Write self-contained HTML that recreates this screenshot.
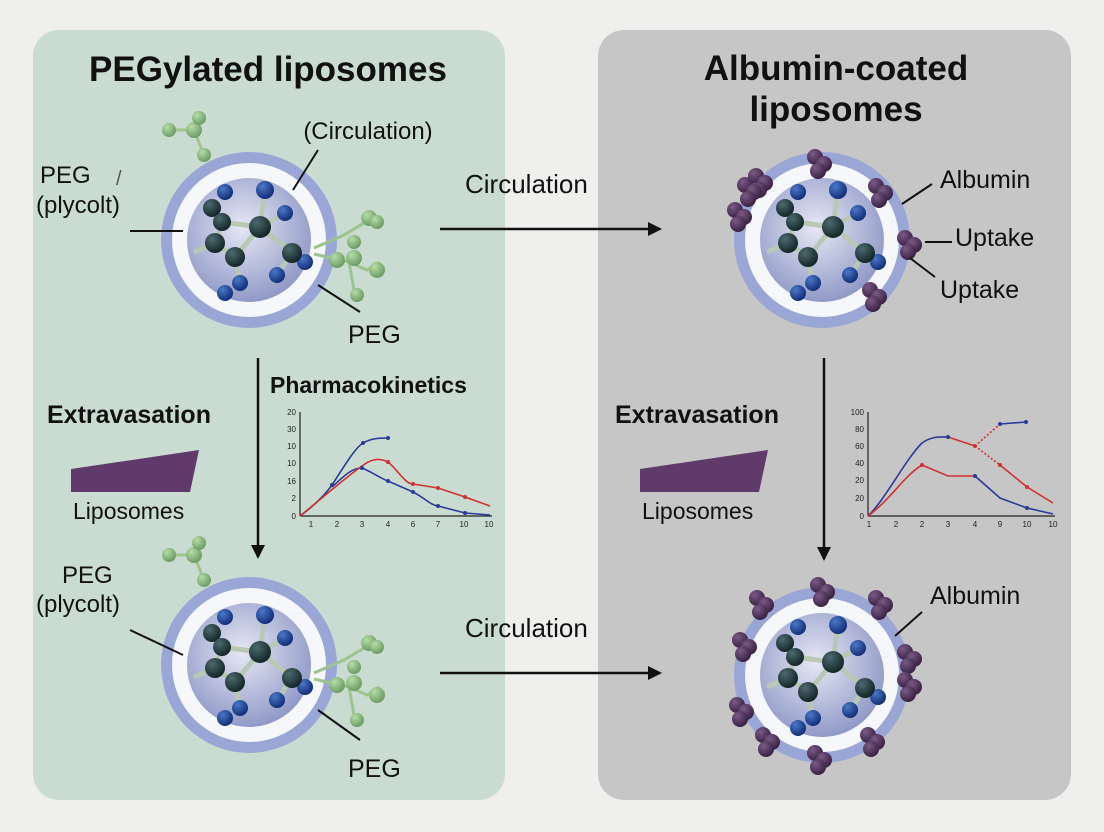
<!DOCTYPE html>
<html><head><meta charset="utf-8"><style>
html,body{margin:0;padding:0;background:#efefed;}
svg{display:block;font-family:"Liberation Sans",sans-serif;}
</style></head><body>
<svg width="1104" height="832" viewBox="0 0 1104 832" xmlns="http://www.w3.org/2000/svg">
<defs>
<radialGradient id="core" cx="45%" cy="40%" r="65%"><stop offset="0" stop-color="#e6e8f4"/><stop offset="1" stop-color="#8a93c4"/></radialGradient>
<radialGradient id="dk" cx="35%" cy="30%" r="70%"><stop offset="0" stop-color="#4d6a70"/><stop offset="1" stop-color="#142628"/></radialGradient>
<radialGradient id="bl" cx="35%" cy="30%" r="70%"><stop offset="0" stop-color="#4a78c8"/><stop offset="1" stop-color="#132f78"/></radialGradient>
<radialGradient id="gr" cx="35%" cy="30%" r="70%"><stop offset="0" stop-color="#b6dca6"/><stop offset="1" stop-color="#6c9c64"/></radialGradient>
<radialGradient id="pu" cx="35%" cy="30%" r="70%"><stop offset="0" stop-color="#7a5a86"/><stop offset="1" stop-color="#3a2244"/></radialGradient>
<marker id="ah" markerWidth="14" markerHeight="14" refX="12" refY="7" orient="auto" markerUnits="userSpaceOnUse"><path d="M0,0 L14,7 L0,14 z" fill="#111"/></marker>
<g id="lipo">
<circle r="88" fill="#9aa6d6"/>
<circle r="77" fill="#f6f7fb"/>
<circle r="62" fill="url(#core)"/>
<g stroke="#b8c8b4" stroke-width="5" fill="none">
<path d="M-37,-32 L-27,-18 L-34,3 L-14,17 L11,-13 L-27,-18 M11,-13 L43,13 M11,-13 L16,-50 M11,-13 L36,-27 M-14,17 L-9,43 M43,13 L56,22 M-34,3 L-55,12 M43,13 L28,35"/>
</g>
<circle cx="-24" cy="-48" r="8" fill="url(#bl)"/><circle cx="16" cy="-50" r="9" fill="url(#bl)"/><circle cx="36" cy="-27" r="8" fill="url(#bl)"/>
<circle cx="28" cy="35" r="8" fill="url(#bl)"/><circle cx="-9" cy="43" r="8" fill="url(#bl)"/><circle cx="-24" cy="53" r="8" fill="url(#bl)"/><circle cx="56" cy="22" r="8" fill="url(#bl)"/>
<circle cx="-37" cy="-32" r="9" fill="url(#dk)"/><circle cx="-27" cy="-18" r="9" fill="url(#dk)"/><circle cx="-34" cy="3" r="10" fill="url(#dk)"/>
<circle cx="-14" cy="17" r="10" fill="url(#dk)"/><circle cx="11" cy="-13" r="11" fill="url(#dk)"/><circle cx="43" cy="13" r="10" fill="url(#dk)"/>
</g>
<g id="peg">
<g stroke="#9cc48c" stroke-width="3" fill="none"><path d="M-45,-85 L-55,-110 L-50,-122 M-55,-110 L-78,-110 M65,8 L95,-5 L120,-20 M65,14 L100,22 L118,30 L130,22 M100,22 L105,50"/></g>
<circle cx="-45" cy="-85" r="7" fill="url(#gr)"/><circle cx="-55" cy="-110" r="8" fill="url(#gr)"/><circle cx="-50" cy="-122" r="7" fill="url(#gr)"/><circle cx="-80" cy="-110" r="7" fill="url(#gr)"/>
<circle cx="120" cy="-22" r="8" fill="url(#gr)"/><circle cx="128" cy="-18" r="7" fill="url(#gr)"/><circle cx="88" cy="20" r="8" fill="url(#gr)"/><circle cx="105" cy="18" r="8" fill="url(#gr)"/><circle cx="105" cy="2" r="7" fill="url(#gr)"/><circle cx="128" cy="30" r="8" fill="url(#gr)"/><circle cx="108" cy="55" r="7" fill="url(#gr)"/>
</g>
<g id="alb"><circle cx="0" cy="0" r="8" fill="url(#pu)"/><circle cx="9" cy="7" r="8" fill="url(#pu)"/><circle cx="3" cy="14" r="8" fill="url(#pu)"/></g>
</defs>

<rect x="33" y="30" width="472" height="770" rx="26" fill="#cadcd2"/>
<rect x="598" y="30" width="473" height="770" rx="26" fill="#c6c6c6"/>

<text x="268" y="81" font-size="35" font-weight="bold" text-anchor="middle" fill="#111">PEGylated liposomes</text>
<text x="836" y="80" font-size="35" font-weight="bold" text-anchor="middle" fill="#111">Albumin-coated</text>
<text x="836" y="121" font-size="35" font-weight="bold" text-anchor="middle" fill="#111">liposomes</text>

<!-- top left -->
<use href="#lipo" x="249" y="240"/>
<use href="#peg" x="249" y="240"/>
<text x="368" y="139" font-size="24" text-anchor="middle" fill="#111">(Circulation)</text>
<line x1="318" y1="150" x2="293" y2="190" stroke="#111" stroke-width="2"/>
<text x="40" y="183" font-size="24" fill="#111">PEG</text>
<text x="36" y="213" font-size="24" fill="#111">(plycolt)</text>
<text x="116" y="185" font-size="20" fill="#555">/</text>
<line x1="130" y1="231" x2="183" y2="231" stroke="#111" stroke-width="2"/>
<line x1="318" y1="285" x2="360" y2="312" stroke="#111" stroke-width="2"/>
<text x="348" y="343" font-size="25" fill="#111">PEG</text>

<!-- bottom left -->
<use href="#lipo" x="249" y="665"/>
<use href="#peg" x="249" y="665"/>
<text x="62" y="583" font-size="24" fill="#111">PEG</text>
<text x="36" y="612" font-size="24" fill="#111">(plycolt)</text>
<line x1="130" y1="630" x2="183" y2="655" stroke="#111" stroke-width="2"/>
<line x1="318" y1="710" x2="360" y2="740" stroke="#111" stroke-width="2"/>
<text x="348" y="777" font-size="25" fill="#111">PEG</text>

<!-- arrows -->
<line x1="258" y1="358" x2="258" y2="557" stroke="#111" stroke-width="2.5" marker-end="url(#ah)"/>
<line x1="824" y1="358" x2="824" y2="559" stroke="#111" stroke-width="2.5" marker-end="url(#ah)"/>
<line x1="440" y1="229" x2="660" y2="229" stroke="#111" stroke-width="2.5" marker-end="url(#ah)"/>
<line x1="440" y1="673" x2="660" y2="673" stroke="#111" stroke-width="2.5" marker-end="url(#ah)"/>
<text x="465" y="193" font-size="26" fill="#111">Circulation</text>
<text x="465" y="637" font-size="26" fill="#111">Circulation</text>

<!-- extravasation -->
<text x="47" y="423" font-size="25" font-weight="bold" fill="#111">Extravasation</text>
<path d="M71,469 L199,450 L190,492 L71,492 z" fill="#5f3a6a"/>
<text x="73" y="519" font-size="23" fill="#111">Liposomes</text>
<text x="615" y="423" font-size="25" font-weight="bold" fill="#111">Extravasation</text>
<path d="M640,469 L768,450 L759,492 L640,492 z" fill="#5f3a6a"/>
<text x="642" y="519" font-size="23" fill="#111">Liposomes</text>

<!-- left chart -->
<text x="270" y="393" font-size="23" font-weight="bold" fill="#111">Pharmacokinetics</text>
<g stroke="#222" stroke-width="1.2"><line x1="300" y1="412" x2="300" y2="516"/><line x1="300" y1="516" x2="492" y2="516"/></g>
<g font-size="8" fill="#222" text-anchor="end">
<text x="296" y="415">20</text><text x="296" y="432">30</text><text x="296" y="449">10</text><text x="296" y="466">10</text><text x="296" y="484">16</text><text x="296" y="501">2</text><text x="296" y="519">0</text></g>
<g font-size="8" fill="#222" text-anchor="middle">
<text x="311" y="527">1</text><text x="337" y="527">2</text><text x="362" y="527">3</text><text x="388" y="527">4</text><text x="413" y="527">6</text><text x="438" y="527">7</text><text x="464" y="527">10</text><text x="489" y="527">10</text></g>
<g fill="none" stroke-width="1.6">
<path d="M300,516 C315,505 325,495 332,485 C345,465 355,448 363,443 C372,438 380,438 388,438" stroke="#2a3a9a"/>
<path d="M332,487 C345,475 352,468 362,468 C372,472 380,478 388,481 L413,492 C425,498 430,505 438,506 L465,513 L490,515" stroke="#2a3a9a"/>
<path d="M300,516 C320,500 345,478 362,466 C370,460 378,457 388,462 C398,470 405,484 413,484 L438,488 L465,497 L490,506" stroke="#d03030"/>
</g>
<g fill="#2a3a9a"><circle cx="332" cy="485" r="2"/><circle cx="363" cy="443" r="2"/><circle cx="388" cy="438" r="2"/><circle cx="362" cy="468" r="2"/><circle cx="388" cy="481" r="2"/><circle cx="413" cy="492" r="2"/><circle cx="438" cy="506" r="2"/><circle cx="465" cy="513" r="2"/></g>
<g fill="#d03030"><circle cx="388" cy="462" r="2"/><circle cx="413" cy="484" r="2"/><circle cx="438" cy="488" r="2"/><circle cx="465" cy="497" r="2"/></g>

<!-- right chart -->
<g stroke="#222" stroke-width="1.2"><line x1="868" y1="412" x2="868" y2="516"/><line x1="868" y1="516" x2="1055" y2="516"/></g>
<g font-size="8" fill="#222" text-anchor="end">
<text x="864" y="415">100</text><text x="864" y="432">80</text><text x="864" y="449">60</text><text x="864" y="466">40</text><text x="864" y="483">20</text><text x="864" y="501">20</text><text x="864" y="519">0</text></g>
<g font-size="8" fill="#222" text-anchor="middle">
<text x="869" y="527">1</text><text x="896" y="527">2</text><text x="922" y="527">2</text><text x="948" y="527">3</text><text x="975" y="527">4</text><text x="1000" y="527">9</text><text x="1027" y="527">10</text><text x="1053" y="527">10</text></g>
<g fill="none" stroke-width="1.6">
<path d="M868,516 C885,500 905,460 922,443 C932,436 940,437 948,437" stroke="#2a3a9a"/>
<path d="M948,437 L975,446" stroke="#d03030"/>
<path d="M975,446 L1000,424" stroke="#d03030" stroke-dasharray="2,2"/>
<path d="M975,446 L1000,465" stroke="#d03030" stroke-dasharray="2,2"/>
<path d="M1000,424 L1026,422" stroke="#2a3a9a"/>
<path d="M1000,465 L1027,487 L1053,503" stroke="#d03030"/>
<path d="M868,516 C890,500 905,475 922,465 L948,476 L975,476" stroke="#d03030"/>
<path d="M975,476 L1000,498 L1027,508 L1053,514" stroke="#2a3a9a"/>
</g>
<g fill="#2a3a9a"><circle cx="948" cy="437" r="2"/><circle cx="1000" cy="424" r="2"/><circle cx="1026" cy="422" r="2"/><circle cx="975" cy="476" r="2"/><circle cx="1027" cy="508" r="2"/></g>
<g fill="#d03030"><circle cx="922" cy="465" r="2"/><circle cx="975" cy="446" r="2"/><circle cx="1000" cy="465" r="2"/><circle cx="1027" cy="487" r="2"/></g>

<!-- top right -->
<use href="#lipo" x="822" y="240"/>
<use href="#alb" x="815" y="157"/><use href="#alb" x="756" y="176"/><use href="#alb" x="735" y="210"/><use href="#alb" x="876" y="186"/><use href="#alb" x="905" y="238"/><use href="#alb" x="870" y="290"/><use href="#alb" x="745" y="185"/>
<text x="940" y="188" font-size="25" fill="#111">Albumin</text>
<line x1="932" y1="184" x2="902" y2="204" stroke="#111" stroke-width="2"/>
<text x="955" y="246" font-size="25" fill="#111">Uptake</text>
<line x1="925" y1="242" x2="952" y2="242" stroke="#111" stroke-width="2"/>
<text x="940" y="298" font-size="25" fill="#111">Uptake</text>
<line x1="910" y1="258" x2="935" y2="277" stroke="#111" stroke-width="2"/>

<!-- bottom right -->
<use href="#lipo" x="822" y="675"/>
<use href="#alb" x="757" y="598"/><use href="#alb" x="818" y="585"/><use href="#alb" x="876" y="598"/><use href="#alb" x="740" y="640"/><use href="#alb" x="905" y="652"/><use href="#alb" x="905" y="680"/><use href="#alb" x="737" y="705"/><use href="#alb" x="763" y="735"/><use href="#alb" x="868" y="735"/><use href="#alb" x="815" y="753"/>
<text x="930" y="604" font-size="25" fill="#111">Albumin</text>
<line x1="922" y1="612" x2="895" y2="636" stroke="#111" stroke-width="2"/>
</svg>
</body></html>
